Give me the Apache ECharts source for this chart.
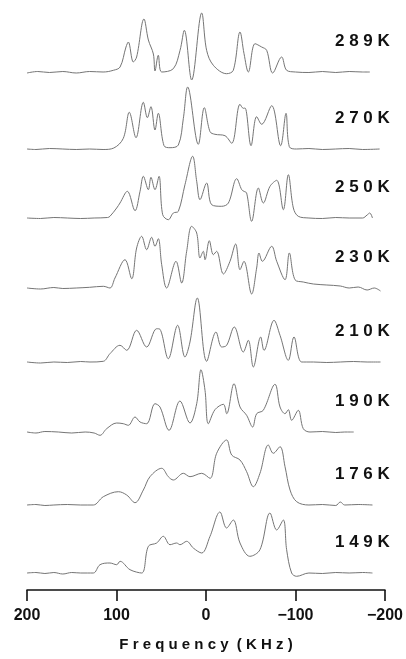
<!DOCTYPE html>
<html>
<head>
<meta charset="utf-8">
<script src="https://cdn.jsdelivr.net/npm/echarts@6/dist/echarts.min.js"></script>
<style>
html,body{margin:0;padding:0;background:#fff;}
#chart{width:406px;height:659px;}
</style>
</head>
<body>
<div id="chart"></div>
<script>
// Temperatures (trace labels), top to bottom
var temps = ['289K', '270K', '250K', '230K', '210K', '190K', '176K', '149K'];

// Frequency ticks (kHz)
var freqTicks = [200, 100, 0, -100, -200];

// Spectra: [frequency (kHz), intensity (arb. units)]
var s289 = [[200,-1],[188,0.5],[175,-0.5],[160,0.5],[145,-1],[130,0.5],[115,0],[103.5,1.7],[96,5],[89.4,25],[86.8,30],[81.2,10],[77.5,15],[69.3,53],[64.4,32],[58.8,18],[57,1],[53.3,16.7],[49.5,0],[36.5,3.3],[29,21.7],[24.2,41.7],[16,-8],[4.8,59],[-0.7,21.7],[-8.2,6.7],[-23,-1.7],[-30.5,1.7],[-38,40],[-42.5,18.3],[-47.3,0],[-54.8,28.3],[-62.2,25],[-67.8,21.7],[-74.5,-1],[-84.5,15],[-90.1,1.7],[-100,0],[-115,-0.5],[-130,0.5],[-145,-0.5],[-160,0.5],[-175,0],[-183,0]];
var s270 = [[200,0],[190,-0.5],[175,0.5],[160,0],[145,-0.5],[130,0],[115,-0.5],[103,1],[92.4,10.7],[85.7,36.7],[78.2,11.3],[70,46.7],[65.5,31.3],[61.5,42.3],[57,19],[53.3,35.7],[46.9,3.3],[40.2,1.3],[30.9,4],[25.3,30.7],[20.5,62],[8.6,4.7],[1.9,41.3],[-4.5,17.3],[-10,14.7],[-21.2,13.3],[-28.7,5.7],[-38,44.7],[-41.7,40.7],[-43.6,41],[-50.3,3.3],[-56.6,32.3],[-62.2,24.7],[-73.4,43.3],[-83.4,3.3],[-89.4,35.7],[-93.1,2.3],[-101,0],[-115,0.5],[-130,-0.5],[-145,0],[-160,0.5],[-175,-0.5],[-194,0]];
var s250 = [[200,0],[185,-0.5],[170,0.5],[155,0],[140,-0.5],[125,0],[110,0.5],[107.3,1.7],[99.8,10],[96.1,15],[87.9,26.7],[79.3,7.3],[73.7,26.7],[70,41.7],[64.4,28.3],[61.5,40.7],[57,28.3],[52.5,41.7],[48.4,3.3],[42.1,-1.7],[36.5,5],[30.9,6.7],[23.5,33.3],[14.9,61.7],[10.4,36.7],[6.7,18.3],[-0.7,35],[-6.3,13.3],[-17.5,11.7],[-25,15],[-34.3,39.3],[-39.9,28.3],[-42.4,26.7],[-45.4,25],[-51,-3.3],[-58.5,30],[-64,15],[-71.5,31.7],[-79,37.7],[-86.4,8.3],[-92,43.3],[-97.6,10],[-103.1,1.7],[-115,0],[-130,-0.5],[-145,0.5],[-160,0],[-175,0],[-180,3],[-183,5],[-186,0]];
var s230 = [[200,0],[185,-1],[170,0.5],[160,-0.5],[145,0],[130,0.7],[114.7,1.7],[107.3,0],[101.7,10],[90.5,28.3],[83,9.3],[77.5,40],[71.9,51.7],[66.3,38.3],[60.7,50.7],[57,41.7],[53.3,49.3],[49.5,23.3],[44,0],[33.5,26.7],[27.2,5],[21.6,36.7],[16,61.7],[10.4,55],[6.7,30],[3,36.7],[1.1,28.3],[-3.7,47.3],[-8.2,33.3],[-11.9,36.7],[-19.4,14],[-26.8,26.7],[-33.1,44],[-38,18.3],[-42.4,26.7],[-51,-6],[-56.6,20],[-59.2,35],[-63,26.7],[-73.4,41.7],[-79,26.7],[-88.3,8.3],[-93.1,35],[-99.4,8.3],[-108.7,6],[-120,4],[-135,3],[-150,2],[-160,0],[-170,1],[-180,-2],[-188,0],[-195,-3]];
var s210 = [[200,0],[185,-1],[170,0],[155,-0.5],[140,0.5],[129.6,0],[114.7,0.7],[107.3,8.3],[96.1,16.7],[88.6,11.7],[77.5,31.7],[66.3,15],[55.1,33.3],[51.4,32.7],[42.1,3.3],[31.7,36.7],[23.5,5],[17.9,20],[9.7,64],[-0.7,0.7],[-11.2,30],[-17.5,15],[-23.1,16.7],[-31.6,35],[-41.7,10],[-47.3,21.7],[-52.9,-5],[-61.1,25],[-64.8,11.7],[-76,41.7],[-82.7,26.7],[-92,1.7],[-98.3,25],[-106.9,0],[-120,0],[-135,-0.5],[-150,0],[-165,0.5],[-180,0],[-195,0]];
var s190 = [[200,0],[190,-1],[180,0.5],[165,0],[150,-1],[135,0],[125,-1],[118.4,-3.3],[111,3.3],[99.8,9],[92.4,8.3],[86.8,6.7],[79.3,15],[73.7,10],[66.3,8.3],[57,28.3],[51.4,25],[41.3,1.7],[29.1,31],[17.9,9],[10.4,28.3],[5.6,62.3],[1.1,41.7],[-2.6,8.3],[-10,22.3],[-19.4,27.7],[-23.1,18.3],[-31.3,48.3],[-38,25],[-45.4,16.7],[-52.1,5],[-56.6,18.3],[-64,21.7],[-77.1,47.7],[-82.7,25],[-88.3,18.3],[-92,22.3],[-95.7,11.7],[-103.1,21.7],[-108.7,3.3],[-116.2,0],[-130,0.5],[-145,-0.5],[-155,0],[-165,0]];
var s176 = [[200,0],[190,0.5],[180,-0.5],[170,0],[155,0.5],[140,0],[125.9,0],[114.7,8.3],[97.9,13.3],[88.6,10],[79.3,2.3],[70,15],[62.6,28.3],[49.5,36.7],[42.1,28.3],[36.5,25],[25.3,31.7],[17.9,28.3],[4.8,31.7],[-4.5,26.7],[-11.9,51.7],[-23,65],[-28.7,50],[-38,45],[-45.4,33.3],[-52.9,18.3],[-60.3,31.7],[-69.6,60],[-75.2,51.7],[-82.7,58.3],[-88.3,38.3],[-93.9,15],[-101.3,3.3],[-115,0],[-130,0.5],[-145,-0.5],[-150,3],[-155,0],[-170,0.5],[-186,0]];
var s149 = [[200,0],[190,0.5],[180,-0.5],[170,0.5],[160,-1],[150,0.5],[140,0],[125.9,0],[118.4,8.3],[107.3,10],[99.8,8.3],[96,11.7],[84.9,3.3],[71.9,0],[64.4,26.7],[55.1,30],[47.7,36.7],[40.2,28.3],[32.8,30],[29,28.3],[21.6,31.7],[14.2,25],[4.8,20],[-4.5,36.7],[-15.6,61],[-23,45],[-30.5,53],[-38,30],[-49,16.7],[-60.3,23.3],[-71.5,60],[-79,43],[-86.4,53],[-90.1,23.3],[-95.7,0],[-101.3,-3.3],[-115,0],[-130,-0.5],[-145,0.5],[-160,0],[-175,0.5],[-186,0]];

var spectra = [s289, s270, s250, s230, s210, s190, s176, s149];

// ---- layout (pixel positions of each trace's baseline) ----
var baselineY = [72, 149, 218, 288, 362, 432, 505, 573];

var chart = echarts.init(document.getElementById('chart'), null, {renderer: 'canvas'});
var last = spectra.length - 1;
var fmt = function (v) { return v < 0 ? '\u2212' + Math.abs(v) : String(v); };

var grids = [], xAxes = [], yAxes = [], series = [], graphics = [];
spectra.forEach(function (d, i) {
  grids.push({left: 27, right: 21, top: baselineY[i] - 70, height: 87});
  var isLast = i === last;
  xAxes.push({
    gridIndex: i, type: 'value', min: -200, max: 200, interval: 100, inverse: true,
    show: isLast,
    axisLine: {show: isLast, onZero: false, lineStyle: {color: '#111', width: 1.6}},
    axisTick: {show: isLast, length: 11, lineStyle: {color: '#111', width: 1.6}},
    axisLabel: {show: isLast, margin: 18, formatter: fmt, color: '#111',
      fontFamily: 'Liberation Sans', fontWeight: 'bold', fontSize: 16},
    splitLine: {show: false},
    name: isLast ? 'F r e q u e n c y  ( K H z )' : '',
    nameLocation: 'middle', nameGap: 47,
    nameTextStyle: {color: '#111', fontFamily: 'Liberation Sans', fontWeight: 'bold', fontSize: 15}
  });
  yAxes.push({gridIndex: i, type: 'value', min: -17, max: 70, show: false});
  series.push({
    type: 'line', xAxisIndex: i, yAxisIndex: i, data: d,
    showSymbol: false, smooth: 0.35, clip: false,
    lineStyle: {color: '#757575', width: 1}
  });
  graphics.push({
    type: 'text', left: 335, top: baselineY[i] - 30 - 9,
    style: {text: temps[i].split('').join(' '), fill: '#111',
      font: 'bold 17px "Liberation Sans"'}
  });
});

chart.setOption({
  animation: false,
  backgroundColor: '#fff',
  grid: grids,
  xAxis: xAxes,
  yAxis: yAxes,
  series: series,
  graphic: graphics
});
</script>
</body>
</html>
